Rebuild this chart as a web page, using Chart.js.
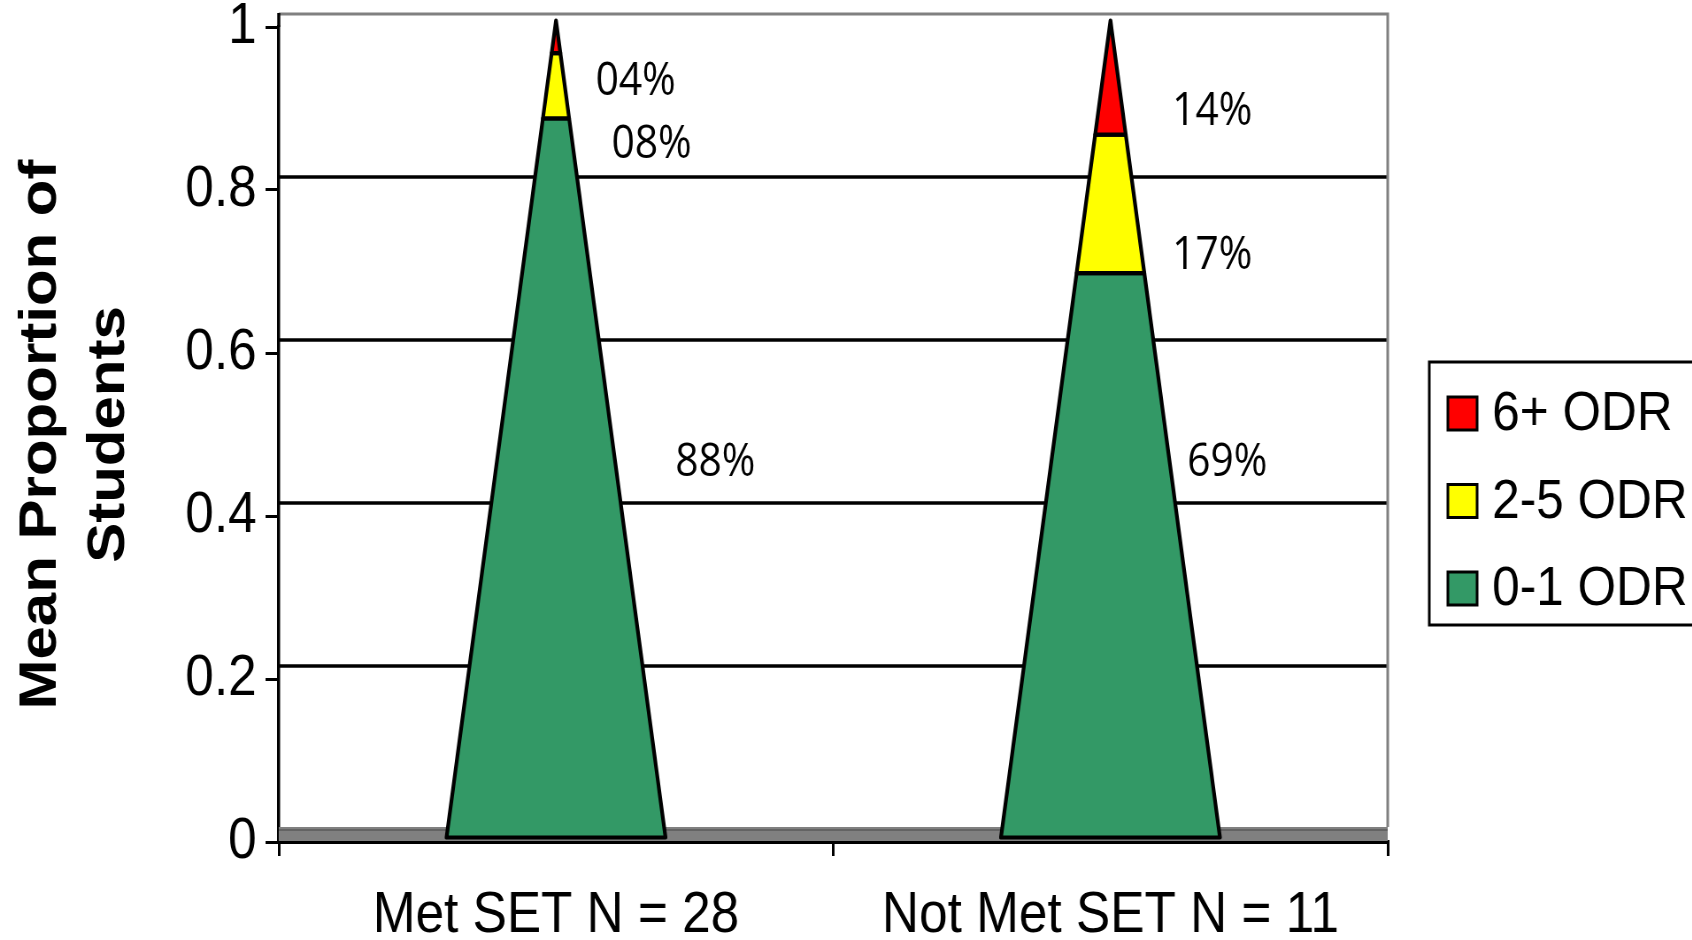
<!DOCTYPE html>
<html>
<head>
<meta charset="utf-8">
<script src="https://cdn.jsdelivr.net/npm/chart.js@4.4.1/dist/chart.umd.min.js"></script>
<style>
  html, body { margin: 0; padding: 0; background: #fff; overflow: hidden; }
  /* the source picture is squeezed horizontally, so draw wide and squeeze */
  #wrap { width: 1912px; height: 940px; transform: scaleX(0.885); transform-origin: 0 0; }
</style>
</head>
<body>
<div id="wrap"><canvas id="chart" width="1912" height="940"></canvas></div>
<script>
/* ---------- data ---------- */
const categories = ['Met SET N = 28', 'Not Met SET N = 11'];
const seriesNames = ['0-1 ODR', '2-5 ODR', '6+ ODR'];
const odr01 = [0.88, 0.69];
const odr25 = [0.08, 0.17];
const odr6plus = [0.04, 0.14];
const yTickLabels = ['0', '0.2', '0.4', '0.6', '0.8', '1'];

/* ---------- look ---------- */
const colors = ['#339966', '#FFFF00', '#FF0000'];
const DEPTH = 13;              // 3D back wall offset
const FLOOR = 15;
const ARIAL = "'Liberation Sans', Arial, sans-serif";
// where Excel put the % labels: px right of category centre, value height
const labelDx = [[180, 132], [108, 115], [90, 115]];
const labelAt = [[0.465, 0.465], [0.855, 0.719], [0.933, 0.896]];

function pct(v){ const n = Math.round(v * 100); return (n < 10 ? '0' : '') + n + '%'; }

const pyramidPlugin = {
  id: 'pyramids',
  beforeDatasetsDraw(chart){
    const {ctx, chartArea: a, scales: {y}} = chart;
    ctx.save();
    // floor
    ctx.fillStyle = '#808080';
    ctx.fillRect(a.left, a.bottom - FLOOR, a.right - a.left, FLOOR - 1);
    ctx.strokeStyle = '#5a5a5a'; ctx.lineWidth = 1.5;
    ctx.beginPath(); ctx.moveTo(a.left, a.bottom - FLOOR + 3); ctx.lineTo(a.right, a.bottom - FLOOR + 3); ctx.stroke();
    // back wall gridlines
    ctx.strokeStyle = '#000'; ctx.lineWidth = 3.5;
    y.ticks.forEach(t => {
      if(t.value <= y.min || t.value >= y.max) return;
      const py = y.getPixelForValue(t.value) - DEPTH;
      ctx.beginPath(); ctx.moveTo(a.left, py); ctx.lineTo(a.right, py); ctx.stroke();
    });
    // wall border
    const topY = y.getPixelForValue(y.max) - DEPTH;
    ctx.strokeStyle = '#808080'; ctx.lineWidth = 3;
    ctx.beginPath(); ctx.moveTo(a.left, topY); ctx.lineTo(a.right, topY); ctx.lineTo(a.right, a.bottom - FLOOR); ctx.stroke();
    ctx.strokeStyle = '#000'; ctx.lineWidth = 3.5;
    ctx.beginPath(); ctx.moveTo(a.left, topY - 1); ctx.lineTo(a.left, a.top); ctx.stroke();

    // pyramids, built from the bar elements
    const metas = chart.data.datasets.map((d, i) => chart.getDatasetMeta(i));
    categories.forEach((c, j) => {
      const total = chart.data.datasets.reduce((s, d) => s + d.data[j], 0);
      const yApex = y.getPixelForValue(total) - DEPTH / 2;
      const yBase = y.getPixelForValue(0) - DEPTH / 2 + 2;
      metas.forEach((m, i) => {
        const bar = m.data[j];
        const hw0 = bar.width / 2;
        const hw = py => hw0 * (py - yApex) / (yBase - yApex);
        const y0 = i === 0 ? yBase : bar.base - DEPTH / 2, y1 = bar.y - DEPTH / 2;
        ctx.beginPath();
        ctx.moveTo(bar.x - hw(y0), y0);
        ctx.lineTo(bar.x + hw(y0), y0);
        ctx.lineTo(bar.x + hw(y1), y1);
        ctx.lineTo(bar.x - hw(y1), y1);
        ctx.closePath();
        ctx.fillStyle = colors[i];
        ctx.fill();
        ctx.strokeStyle = '#000'; ctx.lineWidth = 4.2; ctx.lineJoin = 'round';
        ctx.stroke();
      });
    });
    ctx.restore();
  },
  beforeDatasetDraw(){ return false; },
  afterDatasetsDraw(chart){
    const {ctx, scales: {y}} = chart;
    ctx.save();
    ctx.fillStyle = '#000';
    ctx.font = "46px 'Open Sans', sans-serif";
    ctx.textAlign = 'center'; ctx.textBaseline = 'middle';
    chart.data.datasets.forEach((d, i) => {
      const meta = chart.getDatasetMeta(i);
      d.data.forEach((v, j) => {
        const bar = meta.data[j];
        ctx.fillText(pct(v), bar.x + labelDx[i][j], y.getPixelForValue(labelAt[i][j]));
      });
    });
    ctx.restore();
  },
  afterDraw(chart){
    // legend on the right, framed, top entry = top of stack
    const ctx = chart.ctx;
    ctx.save();
    ctx.strokeStyle = '#000'; ctx.lineWidth = 3;
    ctx.strokeRect(1615, 362, 400, 263);
    ctx.font = '56px ' + ARIAL;
    ctx.textBaseline = 'middle'; ctx.textAlign = 'left';
    const rows = chart.data.datasets.slice().reverse();
    rows.forEach((d, k) => {
      const cy = 413 + k * 87.5;
      ctx.fillStyle = d.backgroundColor;
      ctx.fillRect(1636, cy - 16, 33, 33);
      ctx.lineWidth = 3;
      ctx.strokeRect(1636, cy - 16, 33, 33);
      ctx.fillStyle = '#000';
      ctx.fillText(d.label, 1686, cy + 2);
    });
    ctx.restore();
  }
};

new Chart(document.getElementById('chart'), {
  type: 'bar',
  data: {
    labels: categories,
    datasets: [
      { label: seriesNames[0], data: odr01, backgroundColor: colors[0] },
      { label: seriesNames[1], data: odr25, backgroundColor: colors[1] },
      { label: seriesNames[2], data: odr6plus, backgroundColor: colors[2] }
    ]
  },
  options: {
    responsive: false,
    animation: false,
    devicePixelRatio: 1,
    layout: { padding: { left: 0, right: 344, top: 27, bottom: 0 } },
    categoryPercentage: 1,
    barPercentage: 0.395,
    plugins: { legend: { display: false }, tooltip: { enabled: false } },
    scales: {
      x: {
        stacked: true,
        grid: { display: true, drawOnChartArea: false, drawTicks: true, tickLength: 14, color: '#000', lineWidth: 3, offset: true },
        border: { display: true, color: '#000', width: 4 },
        ticks: { color: '#000', font: { family: ARIAL, size: 58 }, padding: 25, maxRotation: 0 },
        afterFit(s){ s.height = 98; s.paddingLeft = 0; s.paddingRight = 0; }
      },
      y: {
        stacked: true,
        min: 0, max: 1,
        ticks: {
          stepSize: 0.2, color: '#000', padding: 10,
          font: { family: ARIAL, size: 58 },
          callback: (v, i) => yTickLabels[i]
        },
        grid: { display: true, drawOnChartArea: false, drawTicks: true, tickLength: 15, color: '#000', lineWidth: 3 },
        border: { display: true, color: '#000', width: 3.5 },
        title: {
          display: true,
          text: ['Mean Proportion of', 'Students'],
          color: '#000',
          font: { family: ARIAL, size: 60, weight: 'bold', lineHeight: 1.28 },
          padding: { top: 8, bottom: 0 }
        },
        afterFit(s){ s.width = 315; s.paddingTop = 0; s.paddingBottom = 0; }
      }
    }
  },
  plugins: [pyramidPlugin]
});
</script>
</body>
</html>
